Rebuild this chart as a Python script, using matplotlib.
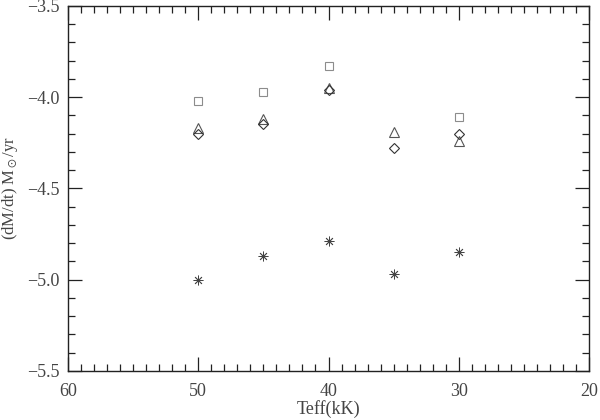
import matplotlib
matplotlib.use('Agg')
import matplotlib.pyplot as plt
from matplotlib.ticker import MultipleLocator

plt.rcParams['font.family'] = ['Liberation Serif', 'DejaVu Serif']
plt.rcParams['mathtext.fontset'] = 'stix'

# 温度 (kK) と各モデルの質量放出率
teff = [50, 45, 40, 35, 30]
teff_sq = [50, 45, 40, 30]
mdot_sq = [-4.02, -3.97, -3.83, -4.11]
mdot_tri = [-4.17, -4.12, -3.95, -4.19, -4.24]
mdot_dia = [-4.20, -4.15, -3.96, -4.28, -4.20]
mdot_ast = [-5.00, -4.87, -4.79, -4.97, -4.85]

fig = plt.figure(figsize=(6, 4.2), dpi=100)
ax = fig.add_axes([0.113, 0.117, 0.869, 0.869])

ax.plot(teff_sq, mdot_sq, ls='none', marker='s', ms=6, mfc='none', mec='#8c8c8c', mew=0.8)
ax.plot(teff, mdot_tri, ls='none', marker='^', ms=6.5, mfc='none', mec='#555555', mew=0.8)
ax.plot(teff, mdot_dia, ls='none', marker='D', ms=5, mfc='none', mec='#333333', mew=0.8)
ax.plot(teff, mdot_ast, ls='none', marker=(8, 2, 0), ms=7, mec='#444444', mew=0.6)

ax.set_xlim(60, 20)
ax.set_ylim(-5.5, -3.5)
ax.xaxis.set_major_locator(MultipleLocator(10))
ax.xaxis.set_minor_locator(MultipleLocator(1))
ax.yaxis.set_major_locator(MultipleLocator(0.5))
ax.yaxis.set_minor_locator(MultipleLocator(0.1))
ax.yaxis.set_major_formatter(plt.FuncFormatter(lambda v, p: ('%.1f' % v).replace('-', '\u2212')))
ax.tick_params(which='both', direction='in', top=True, right=True, colors='#222222',
               labelcolor='#444444', labelsize=13, width=0.9)
ax.tick_params(which='major', length=10, pad=6)
ax.tick_params(axis='x', which='major', pad=9)
ax.tick_params(which='minor', length=5)
for s in ax.spines.values():
    s.set_linewidth(1.0)
    s.set_color('#222222')

ax.set_xlabel('Teff(kK)', fontsize=13, color='#444444', labelpad=0)
ax.set_ylabel(r'(dM/dt) M$_\odot$/yr', fontsize=12, color='#444444')
ax.yaxis.set_label_coords(-0.092, 0.5)

fig.savefig('out.png', dpi=100)
